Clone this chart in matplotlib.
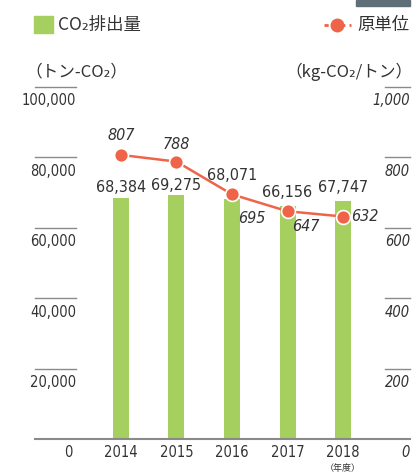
import matplotlib
matplotlib.use('Agg')
import matplotlib.pyplot as plt
from matplotlib.patches import Rectangle
from matplotlib.lines import Line2D

years = ['2014', '2015', '2016', '2017', '2018']
co2 = [68384, 69275, 68071, 66156, 67747]
intensity = [807, 788, 695, 647, 632]
left_ticks = [0, 20000, 40000, 60000, 80000, 100000]
right_ticks = [0, 200, 400, 600, 800, 1000]

bar_color = '#a5cf5f'
line_color = '#ef6448'
grid_color = '#8a8a8a'
text_color = '#333333'
num_font = dict(family=['DejaVu Sans'], fontstretch='condensed')
jp_font = ['Noto Sans CJK JP', 'DejaVu Sans']

W, H = 414, 473
fig = plt.figure(figsize=(W / 100, H / 100), dpi=100)

def px(x, y):
    return x / W, 1 - y / H

# axes: left edge 35px, right 410px, top 87px (max), bottom 439px (zero)
ax = fig.add_axes([35 / W, 1 - 439 / H, 375 / W, 352 / H])
step = 55.5
xs = list(range(len(years)))
ax.set_xlim(-(121 - 35) / step, 4 + (410 - 343) / step)
ax.set_ylim(0, 100000)
ax.axis('off')
ax2 = ax.twinx()
ax2.set_ylim(0, 1000)
ax2.axis('off')

ax.bar(xs, co2, width=16 / step, color=bar_color, zorder=2)

# tick segments and labels
xmin, xmax = ax.get_xlim()
lx = (76 - 121) / step
rx = (385 - 121) / step
for t in left_ticks[1:]:
    ax.plot([xmin, lx], [t, t], color=grid_color, lw=1.0, clip_on=False)
    ax.annotate(f'{t:,}', (lx, t), xytext=(0, -10), textcoords='offset points',
                ha='right', va='center', fontsize=10.5, color=text_color, **num_font)
for t in right_ticks[1:]:
    ax2.plot([rx, xmax], [t, t], color=grid_color, lw=1.0, clip_on=False)
    ax2.annotate(f'{t:,}', (xmax, t), xytext=(0, -10), textcoords='offset points',
                 ha='right', va='center', fontsize=10.5, color=text_color,
                 style='italic', **num_font)
ax.plot([xmin, xmax], [0, 0], color=grid_color, lw=1.5, clip_on=False)
ax.annotate('0', ((68 - 121) / step, 0), xytext=(0, -10), textcoords='offset points',
            ha='center', va='center', fontsize=10.5, color=text_color, **num_font)
ax2.annotate('0', (xmax, 0), xytext=(0, -10), textcoords='offset points',
             ha='right', va='center', fontsize=10.5, color=text_color,
             style='italic', **num_font)
for x, y in zip(xs, years):
    ax.annotate(y, (x, 0), xytext=(0, -10), textcoords='offset points',
                ha='center', va='center', fontsize=10.5, color=text_color, **num_font)
ax.annotate('（年度）', (4, 0), xytext=(0, -21), textcoords='offset points',
            ha='center', va='center', fontsize=6.5, color=text_color, family=jp_font)

# bar value labels (raised where the line marker sits on the bar)
bar_lift = [8, 7.2, 17, 10, 9.4]
for x, v, d in zip(xs, co2, bar_lift):
    ax.annotate(f'{v:,}', (x, v), xytext=(0, d), textcoords='offset points',
                ha='center', va='center', fontsize=11.5, color=text_color, **num_font)

# line
ax2.plot(xs, intensity, color=line_color, lw=1.8, marker='o', markersize=10,
         markeredgecolor='white', markeredgewidth=1.2, zorder=4)
offsets = [(0, 13.7), (0, 12.2), (14.4, -17.3), (13, -11), (16, 0)]
for x, v, off in zip(xs, intensity, offsets):
    ax2.annotate(f'{v}', (x, v), xytext=off, textcoords='offset points',
                 ha='center', va='center', fontsize=11.5, color=text_color,
                 style='italic', zorder=5, **num_font)

# legend
fig.patches.append(Rectangle(px(34, 33), 19 / W, 17 / H, transform=fig.transFigure,
                             color=bar_color))
fig.text(*px(58, 25), 'CO₂排出量', fontsize=12.5, color=text_color, family=jp_font,
         ha='left', va='center')
fig.lines.append(Line2D([324 / W, 351 / W], [1 - 25 / H] * 2, transform=fig.transFigure,
                        color=line_color, lw=2, ls=(0, (1.5, 1.5))))
fig.lines.append(Line2D([337.5 / W], [1 - 25 / H], transform=fig.transFigure,
                        color=line_color, marker='o', markersize=9, lw=0))
fig.text(*px(409, 25), '原単位', fontsize=12.5, color=text_color, family=jp_font,
         ha='right', va='center')

# unit labels
fig.text(*px(25, 72), '（トン-CO₂）', fontsize=12, color=text_color, family=jp_font,
         ha='left', va='center')
fig.text(*px(413, 72), '（kg-CO₂/トン）', fontsize=12, color=text_color, family=jp_font,
         ha='right', va='center')

# cut-off header box
fig.patches.append(Rectangle(px(356, 6), 54 / W, 6 / H, transform=fig.transFigure,
                             color='#5f6f78'))

fig.savefig('out.png', dpi=100)
